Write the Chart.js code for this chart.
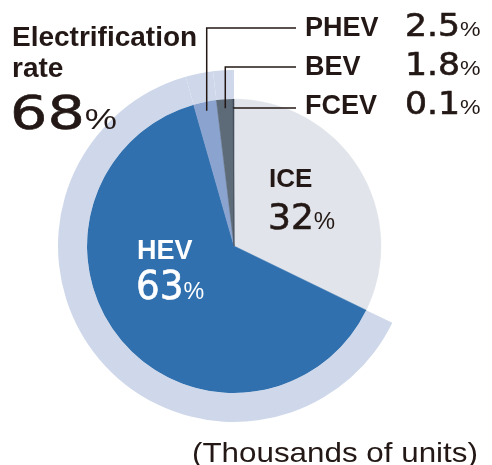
<!DOCTYPE html>
<html>
<head>
<meta charset="utf-8">
<script src="https://cdn.jsdelivr.net/npm/chart.js@4"></script>
<style>
  html, body { margin: 0; padding: 0; background: #fff; }
  #wrap { position: relative; width: 492px; height: 465px; overflow: hidden; }
  canvas { position: absolute; left: 0; top: 0; }
  .t { position: absolute; white-space: nowrap; line-height: 1; color: #231815;
       font-family: "Liberation Sans", Arial, sans-serif; }
  .b { font-weight: bold; }
  .n { font-family: "DejaVu Sans", sans-serif; -webkit-text-stroke: 0.6px currentColor; }
  .p { font-family: "Liberation Sans", Arial, sans-serif; }
  .s { display: inline-block; transform-origin: 0 0; }
</style>
</head>
<body>
<div id="wrap">
  <canvas id="mixChart" width="492" height="465"></canvas>
</div>
<script>
const categories = ['ICE', 'HEV', 'PHEV', 'BEV', 'FCEV'];
const shares = [32, 63, 2.5, 1.8, 0.1]; // % of sales
const electrificationRate = 68;
const sliceColors = ['#e1e4ea', '#3070ae', '#8ba3cf', '#5d6a78', '#3a4350'];
const ringColors = ['rgba(0,0,0,0)', '#cfd8ea', '#cfd8ea', '#cfd8ea', '#cfd8ea'];

const wrap = document.getElementById('wrap');
function addText(html, left, baseline, size, bold, color, sx, cls) {
  const d = document.createElement('div');
  d.className = 't' + (bold ? ' b' : '') + (cls ? ' ' + cls : '');
  d.style.left = left + 'px';
  d.style.top = (baseline - 0.8465 * size) + 'px';
  d.style.fontSize = size + 'px';
  if (color) d.style.color = color;
  d.innerHTML = '<span class="s" style="transform:scaleX(' + (sx || 1) + ')">' + html + '</span>';
  wrap.appendChild(d);
}
function pct(v, pSize) {
  return '<span class="n">' + v + '</span><span class="p" style="font-size:' + pSize + 'px">%</span>';
}

addText('Electrification', 12, 47, 28, true);
addText('rate', 12, 78, 28, true);
addText(pct(electrificationRate, 29), 10, 129, 47, false, null, 1.25);

const legendRows = [[2, 37], [3, 76], [4, 115]];
legendRows.forEach(([i, y]) => {
  addText(categories[i], 305, y, 27, true);
  addText(pct(shares[i].toFixed(1), 21), 405, y, 31.5, false, null, 1.1);
});

addText(categories[0], 269, 187, 26, true);
addText(pct(shares[0], 24), 268, 229, 36, false, null, 1.0);
addText(categories[1], 137, 260, 27, true, '#fff');
addText(pct(shares[1], 24), 136, 300, 38.5, false, '#fff', 0.97);
addText('(Thousands of units)', 192, 463, 28, false, null, 1.12);

const leaderLines = {
  id: 'leaderLines',
  afterDatasetsDraw(chart) {
    const meta = chart.getDatasetMeta(1);
    const ctx = chart.ctx;
    const rows = [[2, 28], [3, 67], [4, 108]];
    ctx.save();
    ctx.strokeStyle = '#231815';
    ctx.lineWidth = 1.5;
    rows.forEach(([i, ly]) => {
      const a = meta.data[i].getProps(['x', 'y', 'startAngle', 'endAngle', 'outerRadius'], true);
      const mid = (a.startAngle + a.endAngle) / 2;
      const r = a.outerRadius - 9;
      const ax = a.x + Math.cos(mid) * r;
      const ay = a.y + Math.sin(mid) * r;
      ctx.beginPath();
      ctx.moveTo(ax, ay);
      ctx.lineTo(ax, ly);
      ctx.lineTo(296, ly);
      ctx.stroke();
    });
    ctx.restore();
  }
};

const ctx = document.getElementById('mixChart').getContext('2d');
new Chart(ctx, {
  type: 'doughnut',
  data: {
    labels: categories,
    datasets: [
      {
        data: shares,
        backgroundColor: ringColors,
        borderWidth: 0,
        weight: 29
      },
      {
        data: shares,
        backgroundColor: sliceColors,
        borderColor: sliceColors,
        borderWidth: 0.5,
        weight: 147
      }
    ]
  },
  options: {
    responsive: false,
    animation: false,
    cutout: 0,
    layout: { padding: { left: 58, top: 70, right: 82, bottom: 43 } },
    plugins: {
      legend: { display: false },
      tooltip: { enabled: false }
    }
  },
  plugins: [leaderLines]
});
</script>
</body>
</html>
